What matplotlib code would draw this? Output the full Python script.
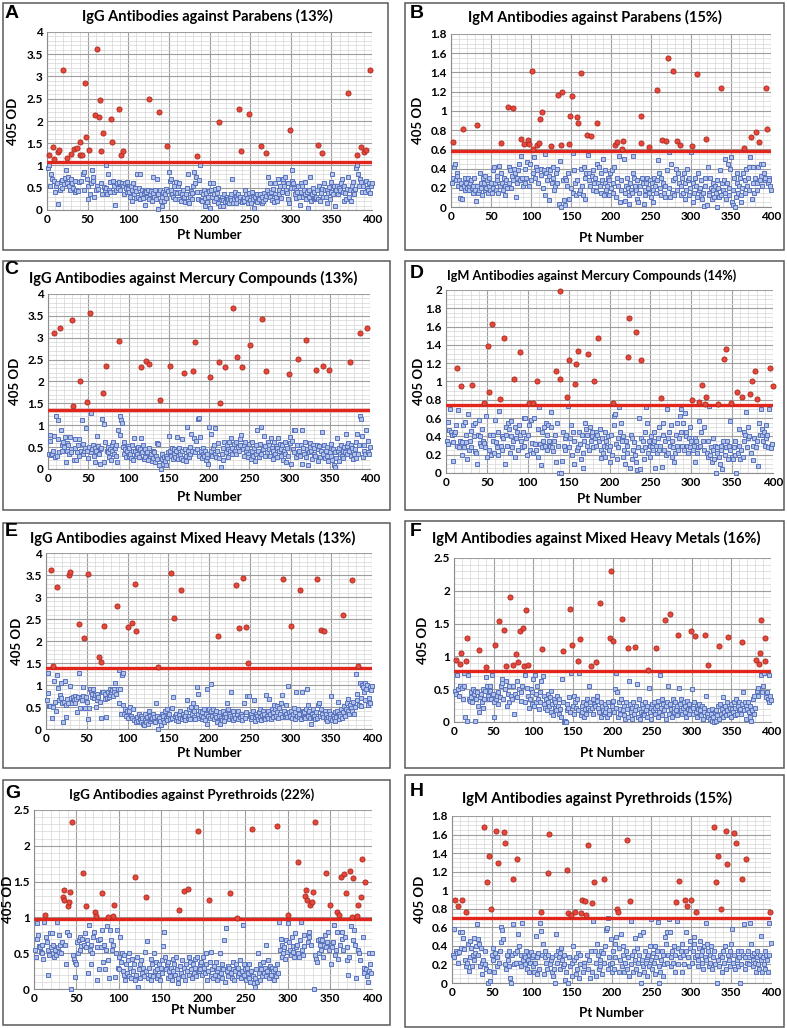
import matplotlib.pyplot as plt
import numpy as np
from matplotlib.patches import Rectangle
from matplotlib.ticker import MultipleLocator, FormatStrFormatter

W, H = 787, 1028

# 405 OD per patient (1..400), in hundredths, ten patients per row
OD_A = np.array([
    95, 123, 100, 55, 80, 70, 142, 115, 65, 40,
    55, 60, 131, 13, 135, 45, 62, 50, 68, 314,
    58, 72, 90, 117, 60, 75, 55, 45, 126, 70,
    60, 50, 136, 40, 65, 45, 140, 42, 62, 123,
    153, 65, 124, 80, 45, 85, 286, 163, 70, 55,
    25, 135, 35, 60, 90, 65, 75, 30, 214, 45,
    55, 362, 48, 208, 247, 133, 60, 35, 172, 52,
    45, 100, 50, 35, 80, 45, 40, 62, 205, 153,
    65, 55, 40, 12, 45, 60, 50, 226, 62, 45,
    123, 60, 132, 55, 35, 60, 50, 62, 40, 48,
    40, 30, 55, 20, 45, 60, 35, 50, 28, 42,
    80, 30, 50, 80, 25, 35, 45, 28, 38, 42,
    12, 40, 30, 45, 25, 249, 35, 42, 20, 38,
    75, 30, 45, 25, 70, 35, 2, 220, 45, 20,
    10, 30, 40, 20, 35, 48, 28, 144, 42, 85,
    65, 45, 70, 35, 30, 55, 25, 40, 62, 38,
    55, 25, 60, 40, 20, 35, 45, 28, 30, 18,
    35, 50, 80, 20, 15, 30, 42, 25, 38, 55,
    85, 60, 75, 40, 121, 25, 68, 100, 40, 22,
    20, 35, 45, 10, 28, 38, 18, 30, 42, 5,
    60, 45, 30, 60, 35, 20, 48, 28, 38, 15,
    50, 198, 10, 25, 30, 10, 22, 35, 18, 28,
    30, 20, 25, 15, 28, 35, 22, 70, 15, 25,
    40, 30, 15, 25, 35, 226, 20, 30, 133, 18,
    25, 30, 20, 45, 35, 28, 15, 38, 215, 22,
    15, 40, 30, 25, 5, 30, 20, 35, 18, 28,
    25, 35, 144, 15, 30, 20, 38, 25, 129, 32,
    45, 75, 35, 60, 30, 40, 22, 48, 18, 35,
    60, 30, 20, 70, 45, 35, 55, 28, 40, 62,
    70, 55, 75, 45, 38, 60, 25, 15, 180, 50,
    65, 90, 60, 50, 35, 45, 28, 40, 55, 30,
    12, 40, 60, 55, 30, 45, 35, 62, 25, 40,
    5, 45, 30, 75, 20, 35, 50, 25, 40, 28,
    30, 45, 147, 25, 55, 20, 38, 48, 127, 30,
    60, 45, 30, 45, 15, 38, 52, 25, 40, 62,
    80, 35, 55, 45, 10, 45, 55, 35, 50, 42,
    45, 60, 70, 40, 20, 55, 38, 25, 48, 262,
    75, 30, 45, 20, 55, 40, 62, 35, 48, 95,
    123, 100, 80, 55, 70, 142, 62, 40, 55, 131,
    40, 65, 135, 50, 45, 60, 38, 314, 55, 60,
]) / 100

OD_B = np.array([
    25, 30, 68, 42, 45, 28, 35, 32, 22, 28,
    9, 25, 20, 8, 81, 22, 30, 18, 25, 20,
    30, 22, 18, 25, 28, 20, 15, 22, 30, 18,
    6, 22, 85, 15, 18, 35, 25, 20, 12, 30,
    25, 18, 32, 20, 28, 15, 22, 30, 18, 25,
    15, 38, 20, 42, 25, 18, 32, 28, 15, 43,
    22, 35, 67, 25, 18, 30, 12, 22, 28, 20,
    104, 42, 25, 38, 20, 32, 28, 103, 40, 35,
    10, 30, 25, 38, 45, 28, 71, 53, 30, 22,
    66, 40, 25, 30, 47, 70, 22, 66, 45, 28,
    141, 35, 60, 52, 30, 42, 64, 38, 25, 67,
    92, 33, 40, 99, 20, 38, 55, 12, 35, 28,
    40, 32, 7, 38, 63, 25, 42, 30, 18, 22,
    35, 25, 40, 117, 3, 48, 64, 0, 120, 28,
    7, 2, 30, 28, 22, 35, 8, 66, 95, 20,
    115, 56, 15, 38, 25, 12, 28, 94, 87, 15,
    18, 139, 40, 22, 13, 42, 30, 8, 35, 75,
    54, 28, 35, 22, 74, 32, 18, 38, 25, 30,
    17, 87, 45, 25, 42, 22, 15, 35, 28, 50,
    13, 25, 38, 18, 22, 30, 12, 28, 35, 20,
    38, 15, 25, 42, 64, 10, 68, 30, 22, 53,
    5, 18, 28, 60, 69, 50, 15, 6, 22, 30,
    20, 3, 12, 25, 18, 15, 53, 35, 30, 22,
    18, 8, 28, 5, 15, 22, 95, 67, 30, 25,
    3, 18, 12, 25, 30, 20, 62, 15, 28, 10,
    25, 5, 18, 30, 22, 15, 28, 122, 49, 35,
    20, 12, 30, 70, 25, 15, 10, 22, 69, 38,
    155, 57, 20, 10, 45, 15, 28, 141, 12, 30,
    40, 18, 69, 35, 25, 64, 12, 22, 30, 15,
    35, 25, 8, 18, 40, 28, 12, 30, 20, 57,
    63, 5, 25, 15, 30, 22, 10, 138, 35, 18,
    20, 12, 28, 8, 15, 1, 22, 30, 71, 2,
    42, 15, 12, 30, 20, 8, 25, 18, 10, 22,
    15, 28, 0, 20, 10, 38, 124, 12, 25, 18,
    28, 50, 15, 8, 25, 45, 20, 12, 40, 52,
    5, 2, 18, 30, 0, 10, 25, 35, 15, 22,
    30, 5, 12, 20, 35, 61, 28, 15, 40, 22,
    30, 18, 42, 52, 73, 8, 25, 42, 15, 30,
    78, 18, 25, 42, 68, 28, 45, 32, 22, 45,
    35, 28, 30, 124, 81, 25, 30, 28, 22, 18,
]) / 100

OD_C = np.array([
    35, 65, 78, 32, 35, 40, 312, 75, 28, 120,
    30, 112, 68, 38, 322, 90, 42, 55, 62, 50,
    72, 15, 40, 60, 55, 35, 72, 45, 38, 341,
    144, 20, 68, 48, 20, 38, 55, 30, 68, 200,
    42, 113, 35, 58, 40, 48, 93, 152, 42, 25,
    50, 356, 38, 127, 45, 55, 30, 48, 15, 40,
    75, 52, 35, 45, 12, 48, 115, 174, 16, 102,
    62, 236, 42, 50, 38, 28, 45, 20, 55, 40,
    62, 35, 48, 30, 55, 15, 90, 292, 122, 78,
    112, 105, 50, 35, 62, 45, 28, 40, 52, 30,
    48, 35, 25, 55, 40, 20, 70, 42, 30, 48,
    35, 50, 28, 45, 234, 70, 38, 55, 22, 45,
    28, 247, 38, 20, 241, 48, 30, 35, 18, 42,
    25, 38, 15, 30, 60, 22, 58, 10, 158, 0,
    22, 35, 12, 28, 18, 30, 8, 25, 38, 75,
    236, 42, 30, 48, 22, 35, 45, 28, 40, 72,
    30, 22, 48, 35, 25, 68, 40, 20, 219, 45,
    30, 18, 95, 40, 28, 50, 35, 80, 42, 225,
    70, 291, 38, 65, 45, 115, 30, 117, 72, 40,
    25, 35, 48, 30, 40, 20, 28, 35, 12, 95,
    211, 80, 42, 30, 48, 55, 35, 93, 28, 40,
    60, 245, 25, 151, 5, 35, 48, 20, 62, 232,
    38, 55, 45, 28, 62, 40, 70, 48, 35, 369,
    58, 40, 62, 35, 255, 50, 42, 68, 55, 78,
    232, 45, 30, 55, 62, 40, 48, 35, 28, 58,
    284, 22, 40, 62, 30, 48, 18, 55, 35, 90,
    42, 28, 58, 97, 35, 344, 45, 75, 30, 52,
    223, 38, 62, 45, 55, 30, 70, 48, 22, 40,
    62, 35, 52, 28, 48, 70, 40, 58, 30, 45,
    55, 20, 42, 62, 35, 15, 48, 30, 216, 72,
    60, 12, 65, 45, 88, 38, 90, 28, 55, 35,
    251, 42, 30, 55, 88, 12, 48, 35, 62, 28,
    294, 45, 8, 38, 60, 50, 42, 22, 55, 35,
    48, 30, 227, 55, 18, 45, 52, 28, 40, 85,
    235, 35, 55, 25, 42, 30, 50, 18, 226, 38,
    30, 58, 20, 45, 10, 5, 38, 25, 70, 40,
    48, 18, 35, 55, 30, 42, 25, 50, 38, 80,
    52, 35, 60, 42, 245, 55, 30, 48, 22, 35,
    45, 25, 62, 80, 35, 55, 120, 312, 115, 75,
    28, 42, 55, 35, 90, 322, 38, 65, 35, 50,
]) / 100

OD_D = np.array([
    35, 32, 56, 47, 70, 45, 42, 13, 34, 43,
    45, 52, 30, 115, 69, 28, 35, 95, 20, 34,
    52, 28, 56, 34, 42, 15, 64, 25, 35, 28,
    46, 96, 52, 40, 24, 55, 22, 10, 42, 58,
    33, 40, 30, 48, 35, 77, 33, 28, 62, 18,
    139, 89, 25, 41, 20, 163, 41, 35, 22, 58,
    34, 28, 20, 45, 68, 81, 30, 25, 40, 38,
    148, 10, 50, 42, 30, 55, 48, 22, 57, 40,
    28, 35, 103, 18, 50, 38, 45, 25, 52, 42,
    132, 35, 28, 45, 60, 30, 60, 38, 20, 42,
    76, 52, 25, 58, 33, 76, 22, 60, 32, 25,
    101, 18, 48, 72, 32, 9, 28, 45, 35, 50,
    30, 55, 25, 42, 53, 35, 30, 67, 50, 28,
    24, 35, 42, 112, 12, 55, 30, 0, 103, 199,
    0, 13, 45, 30, 38, 25, 42, 83, 73, 28,
    123, 38, 53, 20, 45, 10, 35, 97, 119, 25,
    133, 28, 45, 32, 15, 42, 22, 6, 35, 55,
    48, 30, 42, 130, 25, 50, 35, 40, 45, 28,
    101, 38, 45, 30, 42, 147, 35, 48, 16, 25,
    38, 22, 30, 45, 18, 35, 28, 40, 25, 12,
    30, 42, 20, 77, 62, 52, 65, 32, 15, 38,
    28, 72, 45, 55, 35, 18, 40, 25, 10, 35,
    30, 22, 127, 169, 5, 42, 38, 15, 25, 34,
    20, 12, 154, 3, 28, 60, 4, 38, 123, 25,
    35, 15, 28, 45, 72, 55, 22, 35, 30, 18,
    40, 28, 25, 35, 45, 5, 30, 22, 38, 25,
    50, 30, 82, 7, 42, 55, 25, 35, 20, 70,
    38, 22, 45, 30, 52, 18, 35, 28, 12, 22,
    42, 30, 55, 25, 38, 62, 45, 70, 30, 55,
    25, 66, 40, 45, 30, 22, 38, 28, 50, 35,
    80, 25, 30, 38, 12, 35, 22, 28, 78, 57,
    30, 45, 96, 35, 25, 50, 75, 83, 22, 18,
    35, 73, 20, 28, 12, 38, 25, 15, 30, 0,
    22, 28, 75, 18, 10, 25, 30, 4, 35, 125,
    20, 28, 136, 35, 15, 30, 25, 57, 76, 18,
    15, 28, 20, 35, 0, 88, 22, 48, 30, 15,
    25, 83, 18, 45, 35, 42, 67, 28, 38, 50,
    40, 86, 22, 100, 30, 14, 38, 111, 28, 81,
    35, 8, 55, 42, 70, 48, 42, 35, 45, 30,
    38, 52, 42, 28, 70, 115, 30, 27, 32, 95,
]) / 100

OD_E = np.array([
    65, 82, 127, 52, 52, 361, 25, 143, 50, 108,
    62, 40, 122, 322, 93, 65, 78, 70, 105, 58,
    15, 62, 110, 55, 28, 68, 60, 350, 97, 356,
    70, 58, 72, 65, 75, 60, 68, 38, 72, 239,
    128, 48, 70, 65, 75, 95, 206, 48, 72, 62,
    22, 352, 48, 92, 85, 72, 80, 90, 70, 78,
    50, 65, 80, 72, 163, 62, 25, 152, 85, 85,
    233, 80, 68, 27, 70, 85, 72, 78, 90, 85,
    88, 75, 92, 85, 105, 80, 279, 90, 133, 60,
    90, 35, 122, 128, 55, 35, 45, 30, 40, 25,
    231, 42, 50, 30, 241, 25, 45, 20, 330, 15,
    223, 28, 18, 35, 22, 30, 15, 25, 12, 10,
    20, 35, 15, 28, 12, 40, 18, 30, 22, 25,
    35, 20, 28, 15, 58, 30, 140, 0, 25, 18,
    10, 35, 22, 30, 15, 40, 25, 45, 20, 30,
    35, 22, 355, 48, 25, 72, 252, 30, 20, 35,
    28, 18, 32, 25, 40, 317, 22, 35, 28, 30,
    20, 38, 65, 25, 45, 30, 22, 50, 35, 60,
    28, 40, 22, 50, 95, 80, 35, 25, 42, 30,
    22, 38, 28, 45, 20, 35, 90, 12, 30, 45,
    25, 40, 103, 30, 45, 22, 35, 28, 40, 15,
    212, 30, 12, 38, 25, 20, 42, 30, 18, 35,
    28, 60, 45, 22, 35, 30, 85, 25, 40, 20,
    32, 25, 327, 35, 22, 40, 229, 28, 35, 20,
    30, 343, 60, 25, 38, 231, 75, 149, 75, 30,
    22, 35, 28, 40, 65, 25, 18, 35, 30, 22,
    38, 28, 45, 20, 32, 42, 25, 35, 22, 78,
    30, 40, 25, 68, 35, 22, 45, 28, 38, 55,
    45, 30, 52, 38, 25, 48, 35, 60, 28, 78,
    340, 42, 30, 35, 55, 28, 98, 38, 30, 233,
    42, 25, 35, 48, 22, 38, 85, 30, 45, 28,
    35, 316, 22, 85, 40, 28, 38, 25, 45, 90,
    30, 55, 42, 25, 12, 35, 28, 45, 30, 22,
    38, 341, 25, 55, 60, 30, 45, 226, 35, 28,
    222, 40, 22, 35, 18, 28, 42, 25, 35, 75,
    20, 30, 25, 38, 18, 28, 40, 62, 22, 35,
    30, 45, 25, 258, 38, 52, 30, 45, 60, 68,
    42, 35, 55, 48, 338, 40, 62, 35, 50, 125,
    65, 80, 144, 55, 105, 70, 52, 100, 95, 85,
    105, 65, 92, 100, 55, 70, 60, 95, 88, 97,
]) / 100

OD_F = np.array([
    48, 42, 95, 72, 50, 40, 88, 55, 105, 52,
    35, 55, 74, 8, 93, 128, 2, 72, 35, 32,
    38, 45, 30, 50, 42, 48, 2, 35, 45, 25,
    15, 110, 38, 42, 30, 50, 22, 35, 48, 68,
    84, 55, 40, 35, 48, 55, 35, 72, 42, 30,
    7, 117, 35, 40, 28, 45, 154, 38, 55, 65,
    60, 35, 140, 50, 62, 85, 25, 42, 30, 55,
    190, 40, 35, 55, 87, 12, 42, 104, 38, 62,
    91, 50, 138, 32, 45, 55, 143, 85, 30, 72,
    171, 52, 87, 40, 22, 35, 50, 28, 45, 65,
    25, 72, 42, 30, 55, 35, 20, 45, 30, 62,
    112, 70, 28, 40, 22, 35, 18, 42, 30, 25,
    38, 15, 48, 28, 10, 35, 22, 30, 18, 40,
    25, 12, 35, 20, 8, 65, 30, 108, 0, 2,
    0, 18, 28, 22, 38, 15, 172, 74, 117, 25,
    40, 12, 30, 22, 35, 18, 93, 74, 127, 10,
    25, 15, 30, 8, 20, 28, 12, 35, 22, 55,
    18, 30, 85, 22, 35, 12, 28, 25, 91, 32,
    40, 22, 15, 182, 30, 8, 25, 18, 12, 28,
    15, 22, 8, 30, 12, 18, 128, 230, 25, 32,
    123, 15, 50, 22, 75, 45, 8, 30, 20, 12,
    35, 157, 18, 25, 10, 5, 30, 20, 8, 113,
    62, 28, 15, 22, 5, 30, 12, 18, 114, 25,
    58, 8, 20, 35, 5, 15, 28, 12, 22, 10,
    30, 18, 8, 25, 79, 52, 15, 22, 5, 28,
    18, 30, 12, 22, 113, 25, 8, 32, 15, 72,
    22, 35, 10, 28, 18, 155, 5, 25, 30, 55,
    12, 165, 28, 20, 8, 35, 15, 22, 30, 18,
    25, 10, 133, 52, 28, 18, 35, 12, 22, 30,
    15, 25, 8, 32, 20, 12, 28, 18, 138, 50,
    22, 12, 30, 131, 15, 25, 8, 20, 28, 12,
    18, 10, 25, 5, 15, 22, 133, 40, 12, 8,
    87, 18, 5, 12, 2, 20, 8, 0, 15, 2,
    18, 10, 25, 5, 116, 28, 12, 20, 8, 38,
    15, 25, 10, 30, 18, 129, 12, 22, 8, 28,
    20, 15, 30, 10, 22, 35, 12, 25, 18, 30,
    20, 12, 28, 122, 45, 18, 30, 5, 25, 20,
    30, 15, 8, 25, 2, 18, 35, 12, 40, 22,
    95, 48, 40, 52, 88, 105, 72, 155, 45, 55,
    75, 93, 128, 38, 45, 35, 30, 72, 40, 33,
]) / 100

OD_G = np.array([
    55, 45, 92, 70, 75, 60, 58, 52, 62, 50,
    42, 93, 103, 72, 65, 55, 20, 48, 78, 58,
    78, 62, 50, 45, 55, 48, 94, 58, 52, 76,
    62, 50, 65, 129, 138, 124, 62, 35, 80, 116,
    75, 122, 135, 0, 233, 48, 42, 17, 38, 35,
    65, 50, 68, 55, 72, 60, 70, 162, 62, 78,
    58, 116, 68, 22, 90, 55, 35, 62, 50, 72,
    80, 107, 102, 13, 58, 68, 28, 70, 58, 82,
    134, 38, 62, 28, 55, 88, 40, 100, 15, 82,
    68, 55, 62, 102, 117, 17, 50, 83, 30, 45,
    28, 73, 38, 50, 25, 20, 48, 12, 35, 22,
    40, 18, 50, 30, 15, 42, 25, 35, 12, 157,
    20, 45, 3, 28, 35, 15, 40, 22, 30, 18,
    52, 25, 129, 67, 15, 30, 20, 42, 12, 35,
    18, 50, 25, 38, 15, 28, 20, 35, 12, 30,
    22, 40, 60, 80, 45, 28, 35, 15, 38, 25,
    18, 30, 12, 42, 25, 35, 20, 45, 28, 15,
    8, 110, 32, 22, 40, 18, 137, 30, 12, 35,
    25, 139, 45, 20, 38, 28, 15, 35, 22, 42,
    30, 18, 45, 220, 25, 35, 28, 38, 20, 45,
    30, 22, 35, 50, 12, 25, 124, 38, 18, 52,
    28, 15, 32, 20, 38, 25, 12, 30, 18, 50,
    22, 35, 15, 28, 68, 10, 85, 25, 32, 18,
    30, 134, 22, 15, 28, 38, 12, 25, 35, 99,
    18, 30, 22, 40, 15, 25, 90, 35, 20, 28,
    12, 30, 22, 15, 35, 10, 25, 223, 18, 8,
    3, 15, 28, 10, 50, 22, 35, 12, 28, 18,
    38, 22, 30, 18, 62, 25, 40, 15, 32, 28,
    20, 30, 25, 12, 28, 18, 228, 35, 22, 93,
    55, 70, 45, 62, 50, 58, 42, 68, 52, 104,
    92, 65, 55, 48, 72, 60, 52, 45, 78, 58,
    62, 177, 50, 45, 68, 93, 55, 48, 75, 60,
    130, 138, 125, 65, 80, 72, 117, 62, 122, 135,
    0, 233, 48, 42, 38, 68, 50, 62, 70, 55,
    68, 45, 62, 75, 162, 58, 65, 80, 55, 117,
    62, 35, 58, 65, 90, 48, 55, 80, 108, 42,
    103, 62, 157, 70, 80, 55, 160, 72, 134, 40,
    58, 20, 45, 165, 88, 100, 155, 68, 82, 62,
    15, 102, 117, 55, 50, 40, 129, 182, 72, 30,
    22, 150, 28, 18, 10, 50, 25, 35, 22, 50,
]) / 100

OD_H = np.array([
    30, 28, 58, 90, 35, 32, 22, 83, 33, 55,
    38, 89, 55, 48, 37, 25, 77, 18, 22, 42,
    13, 45, 28, 38, 18, 30, 48, 25, 32, 40,
    64, 47, 30, 42, 18, 38, 10, 22, 25, 168,
    20, 35, 15, 109, 0, 137, 13, 2, 80, 30,
    25, 38, 12, 32, 164, 18, 28, 129, 22, 35,
    44, 60, 57, 47, 163, 20, 151, 15, 30, 25,
    18, 35, 5, 0, 30, 112, 64, 20, 32, 22,
    134, 35, 53, 40, 22, 30, 18, 65, 25, 30,
    28, 20, 35, 15, 25, 30, 12, 22, 33, 28,
    18, 30, 12, 22, 51, 10, 28, 32, 15, 65,
    77, 56, 30, 42, 10, 28, 35, 22, 15, 119,
    30, 161, 20, 25, 12, 28, 8, 15, 0, 53,
    30, 22, 35, 28, 15, 32, 38, 25, 18, 30,
    20, 3, 12, 122, 75, 0, 28, 18, 73, 8,
    22, 40, 25, 77, 10, 28, 15, 32, 5, 20,
    30, 75, 89, 12, 22, 18, 88, 73, 30, 15,
    149, 25, 5, 35, 12, 86, 67, 109, 35, 22,
    8, 42, 30, 15, 25, 18, 35, 10, 32, 112,
    22, 40, 57, 59, 70, 15, 28, 20, 47, 12,
    22, 35, 15, 42, 28, 50, 80, 77, 12, 38,
    25, 53, 18, 30, 40, 12, 22, 35, 15, 154,
    28, 8, 88, 67, 20, 30, 12, 35, 25, 48,
    15, 38, 22, 10, 30, 52, 0, 25, 18, 55,
    12, 35, 22, 28, 8, 30, 18, 40, 69, 25,
    15, 32, 22, 40, 10, 28, 35, 66, 18, 0,
    12, 25, 35, 8, 30, 20, 50, 42, 22, 55,
    30, 69, 55, 18, 28, 35, 22, 40, 12, 30,
    87, 67, 38, 20, 110, 28, 35, 12, 42, 30,
    20, 90, 35, 55, 83, 28, 18, 38, 45, 89,
    22, 35, 50, 42, 28, 77, 30, 18, 25, 38,
    45, 30, 22, 35, 15, 40, 28, 65, 25, 42,
    35, 18, 30, 22, 40, 15, 28, 35, 168, 20,
    109, 0, 137, 25, 18, 30, 80, 12, 28, 35,
    22, 40, 164, 15, 128, 30, 25, 18, 35, 42,
    58, 22, 162, 30, 15, 151, 25, 35, 18, 28,
    0, 35, 20, 112, 30, 64, 15, 28, 134, 22,
    35, 20, 28, 65, 42, 30, 18, 25, 32, 22,
    12, 28, 35, 20, 15, 30, 25, 51, 12, 28,
    20, 35, 15, 30, 25, 12, 65, 30, 77, 43,
]) / 100

TITLES = {
    "A": "IgG Antibodies against Parabens (13%)",
    "B": "IgM Antibodies against Parabens (15%)",
    "C": "IgG Antibodies against Mercury Compounds (13%)",
    "D": "IgM Antibodies against Mercury Compounds (14%)",
    "E": "IgG Antibodies against Mixed Heavy Metals (13%)",
    "F": "IgM Antibodies against Mixed Heavy Metals (16%)",
    "G": "IgG Antibodies against Pyrethroids (22%)",
    "H": "IgM Antibodies against Pyrethroids (15%)",
}
SERIES = {"A": OD_A, "B": OD_B, "C": OD_C, "D": OD_D,
          "E": OD_E, "F": OD_F, "G": OD_G, "H": OD_H}
CUTOFFS = {"A": 1.07, "B": 0.58, "C": 1.35, "D": 0.74,
           "E": 1.38, "F": 0.77, "G": 0.98, "H": 0.70}

# layout in pixels: box (l, t, r, b), axes (x0, x400, ytop, ybottom), y scale, text spots
LAYOUT = {
    "A": dict(box=(3, 3, 388, 250), ax=(47, 372, 32, 210), y=(4, 0.5, 0.1),
              title=(207, 16, 10.5), letter=(5, 14), ylab=13, xlab=235),
    "B": dict(box=(405, 3, 784, 250), ax=(451, 771, 34, 207), y=(1.8, 0.2, 0.05),
              title=(595, 17, 10.5), letter=(410, 14), ylab=418, xlab=238),
    "C": dict(box=(3, 261, 390, 510), ax=(48, 370, 294, 469), y=(4, 0.5, 0.1),
              title=(193, 278, 10.5), letter=(4, 269), ylab=15, xlab=497),
    "D": dict(box=(405, 261, 784, 510), ax=(446, 773, 290, 473), y=(2, 0.2, 0.05),
              title=(592, 276, 9.2), letter=(410, 274), ylab=419, xlab=499),
    "E": dict(box=(3, 523, 390, 768), ax=(46, 372, 553, 729), y=(4, 0.5, 0.1),
              title=(193, 538, 10.5), letter=(5, 531), ylab=17, xlab=753),
    "F": dict(box=(405, 521, 784, 768), ax=(454, 771, 558, 722), y=(2.5, 0.5, 0.1),
              title=(596, 538, 10.5), letter=(410, 532), ylab=423, xlab=753),
    "G": dict(box=(3, 780, 390, 1025), ax=(34, 372, 810, 989), y=(2.5, 0.5, 0.1),
              title=(192, 795, 9.6), letter=(5, 794), ylab=8, xlab=1010),
    "H": dict(box=(405, 775, 784, 1027), ax=(452, 771, 816, 983), y=(1.8, 0.2, 0.05),
              title=(597, 798, 10.5), letter=(410, 792), ylab=420, xlab=1013),
}

FONT = "Lato"
BLUE_FILL, BLUE_EDGE = "#b3c2e8", "#5873bd"
RED_FILL, RED_EDGE = "#e8463a", "#a82a20"
CUT_RED = "#e2261b"


def fx(x):
    return x / W


def fy(y):
    return 1 - y / H


def draw_panel(fig, key):
    lay = LAYOUT[key]
    od = SERIES[key]
    cut = CUTOFFS[key]
    pts = np.arange(1, len(od) + 1)

    l, t, r, b = lay["box"]
    fig.add_artist(Rectangle((fx(l), fy(b)), fx(r) - fx(l), fy(t) - fy(b),
                             transform=fig.transFigure, fill=False,
                             edgecolor="#5a5a5a", linewidth=1.1))

    x0, x1, yt, yb = lay["ax"]
    ax = fig.add_axes([fx(x0), fy(yb), fx(x1) - fx(x0), fy(yt) - fy(yb)])
    ymax, ystep, yminor = lay["y"]
    ax.set_xlim(0, 400)
    ax.set_ylim(0, ymax)
    ax.xaxis.set_major_locator(MultipleLocator(50))
    ax.xaxis.set_minor_locator(MultipleLocator(10))
    ax.yaxis.set_major_locator(MultipleLocator(ystep))
    ax.yaxis.set_minor_locator(MultipleLocator(yminor))
    ax.yaxis.set_major_formatter(FormatStrFormatter("%g"))
    ax.grid(True, which="minor", color="#d6d6d6", linewidth=0.5)
    ax.grid(True, which="major", color="#9e9e9e", linewidth=0.8)
    ax.set_axisbelow(True)
    for side in ("top", "right"):
        ax.spines[side].set_visible(False)
    for side in ("left", "bottom"):
        ax.spines[side].set_color("#8c8c8c")
        ax.spines[side].set_linewidth(0.8)
    ax.tick_params(which="both", length=0, pad=3, labelsize=8.5)
    for lab in ax.get_xticklabels() + ax.get_yticklabels():
        lab.set_fontweight("bold")
        lab.set_family(FONT)

    low = od <= cut
    ax.plot(pts[low], od[low], "s", ms=3.3, mfc=BLUE_FILL, mec=BLUE_EDGE,
            mew=0.7, clip_on=False, zorder=3)
    ax.axhline(cut, color=CUT_RED, linewidth=2.4, zorder=4)
    ax.plot(pts[~low], od[~low], "o", ms=3.7, mfc=RED_FILL, mec=RED_EDGE,
            mew=0.6, clip_on=False, zorder=5)

    tx, ty, tsize = lay["title"]
    fig.text(fx(tx), fy(ty), TITLES[key], ha="center", va="center",
             fontsize=tsize, fontweight="bold", family=FONT)
    lx, ly = lay["letter"]
    fig.text(fx(lx), fy(ly), key, ha="left", va="center", fontsize=14,
             fontweight="bold", family="Liberation Sans")
    fig.text(fx(lay["ylab"]), fy((yt + yb) / 2), "405 OD", rotation=90,
             ha="center", va="center", fontsize=9.5, fontweight="bold", family=FONT)
    fig.text(fx((x0 + x1) / 2), fy(lay["xlab"]), "Pt Number", ha="center",
             va="center", fontsize=9.5, fontweight="bold", family=FONT)


def main():
    for key, od in SERIES.items():
        assert len(od) == 400, (key, len(od))
    fig = plt.figure(figsize=(W / 100, H / 100), dpi=100)
    fig.patch.set_facecolor("white")
    for key in "ABCDEFGH":
        draw_panel(fig, key)
    fig.savefig("out.png", dpi=100, facecolor="white")
    plt.close(fig)


if __name__ == "__main__":
    main()
